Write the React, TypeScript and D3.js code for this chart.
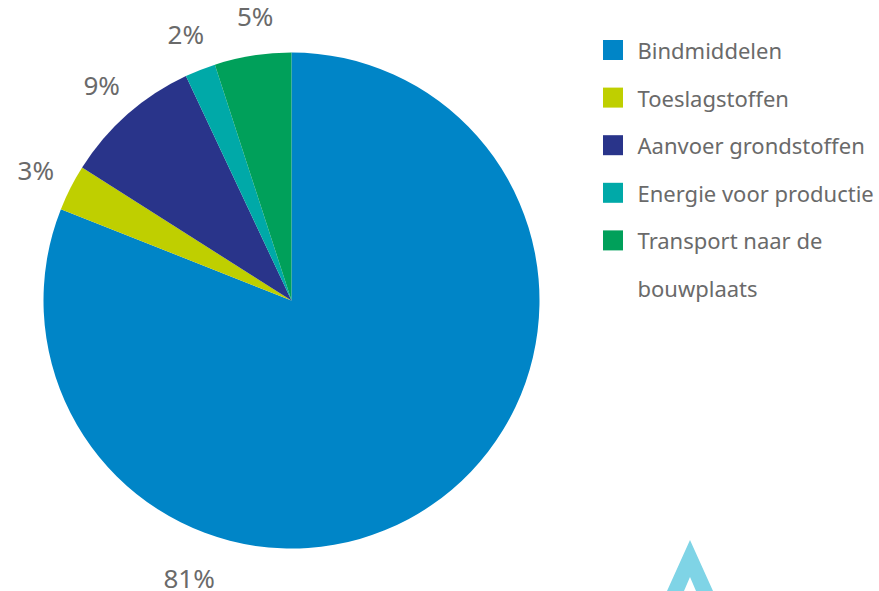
import React from "react";
import * as d3 from "d3";

const categories = [
  "Bindmiddelen",
  "Toeslagstoffen",
  "Aanvoer grondstoffen",
  "Energie voor productie",
  "Transport naar de bouwplaats",
];
const legendLines = [
  ["Bindmiddelen"],
  ["Toeslagstoffen"],
  ["Aanvoer grondstoffen"],
  ["Energie voor productie"],
  ["Transport naar de", "bouwplaats"],
];
const values = [81, 3, 9, 2, 5];
const labels = ["81%", "3%", "9%", "2%", "5%"];
const colors = ["#0085C7", "#BFCF00", "#29348A", "#00A9A8", "#00A05A"];

const W = 879;
const H = 591;
const cx = 291.5;
const cy = 300.5;
const R = 248;
const FONT = "'Noto Sans', 'Open Sans', sans-serif";
const TEXT = "#6a6a6a";

export default function App() {
  const pie = d3.pie<number>().sort(null).value((d) => d)(values);
  const arc = d3.arc<d3.PieArcDatum<number>>().innerRadius(0).outerRadius(R);
  const labelR = 287;
  // big slice label was moved by the author toward the bottom
  const angleShift = [0.95, 0, 0, 0, 0.03];

  return (
    <svg
      width={W}
      height={H}
      style={{ position: "absolute", left: 0, top: 0, background: "#fff" }}
    >
      <g transform={`translate(${cx},${cy})`}>
        {pie.map((p, i) => (
          <path key={i} d={arc(p) || ""} fill={colors[i]} />
        ))}
        {pie.map((p, i) => {
          const a = (p.startAngle + p.endAngle) / 2 + angleShift[i];
          const rr = i === 0 ? 296 : labelR;
          const x = Math.sin(a) * rr;
          const y = -Math.cos(a) * rr;
          return (
            <text
              key={i}
              x={x}
              y={y}
              textAnchor="middle"
              dominantBaseline="central"
              fontFamily={FONT}
              fontSize={26}
              fill={TEXT}
            >
              {labels[i]}
            </text>
          );
        })}
      </g>
      <g transform="translate(603,40)">
        {categories.map((c, i) => (
          <g key={c} transform={`translate(0,${i * 47.6})`}>
            <rect x={0} y={0} width={20} height={20} fill={colors[i]} />
            {legendLines[i].map((ln, j) => (
              <text
                key={j}
                x={34.5}
                y={10 + j * 47.6}
                dominantBaseline="central"
                fontFamily={FONT}
                fontSize={22}
                fill={TEXT}
              >
                {ln}
              </text>
            ))}
          </g>
        ))}
      </g>
      <path
        d="M690,540 L667,591 L713,591 Z M690,577 L684,591 L696,591 Z"
        fill="#7FD4E6"
        fillRule="evenodd"
      />
    </svg>
  );
}
